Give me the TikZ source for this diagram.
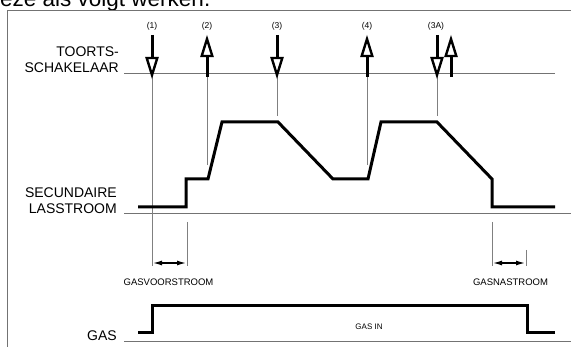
\documentclass[tikz,border=0pt]{standalone}
\usepackage{fontspec}
\setmainfont{Liberation Sans}
\usetikzlibrary{arrows.meta}
\begin{document}
\begin{tikzpicture}[x=1pt,y=-1pt,
  thinline/.style={draw=black!50, line width=0.8pt},
  rule/.style={draw=black!55, line width=1pt},
  wave/.style={draw=black, line width=3pt, line join=miter},
  lbl/.style={inner sep=0pt, font=\fontsize{14}{16}\selectfont},
  tag/.style={inner sep=0pt, font=\fontsize{8.5}{10}\selectfont},
  small/.style={inner sep=0pt, font=\fontsize{9.5}{11}\selectfont},
  shaft/.style={draw=black, line width=3pt},
  head/.style={draw=black, fill=white, line width=2.4pt, line join=miter},
  dim/.style={draw=black, line width=1.3pt, {Latex[length=9pt,width=5pt]}-{Latex[length=9pt,width=5pt]}}
]
\useasboundingbox (0,0) rectangle (571,347);
\clip (0,0) rectangle (571,347);

% caption fragment
\node[anchor=base west, inner sep=0pt, font=\fontsize{22.5}{27}\selectfont] (cap) at (0,7) {eze als volgt werken.};

% frame
\coordinate (fTL) at (7,11);
\coordinate (fTR) at (571,11);
\coordinate (fBL) at (7,347);
\draw[rule] (fTR) -- (fTL) -- (fBL);

% row labels
\node[lbl, anchor=base east] (toorts) at (119,57) {TOORTS-};
\node[lbl, anchor=base east] (schak) at (119,73) {SCHAKELAAR};
\node[lbl, anchor=base east] (secund) at (117,198) {SECUNDAIRE};
\node[lbl, anchor=base east] (lass) at (117,214) {LASSTROOM};
\node[lbl, anchor=base east] (gas) at (117,341) {GAS};

% baselines
\coordinate (r1a) at (124,74);  \coordinate (r1b) at (555,74);
\coordinate (r2a) at (124,214); \coordinate (r2b) at (571,214);
\coordinate (r3a) at (124,342); \coordinate (r3b) at (571,342);
\draw[rule] (r1a) -- (r1b);
\draw[rule] (r2a) -- (r2b);
\draw[rule] (r3a) -- (r3b);

% thin vertical event lines
\coordinate (v1a) at (152,74);  \coordinate (v1b) at (152,266);
\coordinate (v2a) at (207,74);  \coordinate (v2b) at (207,165);
\coordinate (v3a) at (277,74);  \coordinate (v3b) at (277,116);
\coordinate (v4a) at (367,74);  \coordinate (v4b) at (367,165);
\coordinate (v5a) at (437,74);  \coordinate (v5b) at (437,116);
\coordinate (g1a) at (187,222); \coordinate (g1b) at (187,266);
\coordinate (g2a) at (492,222); \coordinate (g2b) at (492,266);
\coordinate (g3a) at (526,250); \coordinate (g3b) at (526,266);
\foreach \n in {v1,v2,v3,v4,v5,g1,g2,g3} \draw[thinline] (\n a) -- (\n b);

% dimension arrows
\coordinate (d1a) at (153,263); \coordinate (d1b) at (186,263);
\coordinate (d2a) at (493,263); \coordinate (d2b) at (525,263);
\draw[dim] (d1a) -- (d1b);
\draw[dim] (d2a) -- (d2b);
\node[small] (gvs) at (168.5,282) {GASVOORSTROOM};
\node[small] (gns) at (510.5,282) {GASNASTROOM};

% event tags
\node[tag] (e1) at (152,26) {(1)};
\node[tag] (e2) at (207,26) {(2)};
\node[tag] (e3) at (277,26) {(3)};
\node[tag] (e4) at (367,26) {(4)};
\node[tag] (e5) at (436,26) {(3A)};

% down arrows
\foreach \x in {152,277,437} {
  \draw[shaft] (\x,35) -- (\x,58);
  \draw[head] (\x-5.3,58) -- (\x+5.3,58) -- (\x,75) -- cycle;
}
% up arrows
\foreach \x in {207,367,451} {
  \draw[shaft] (\x,55) -- (\x,77);
  \draw[head] (\x-5.3,56) -- (\x+5.3,56) -- (\x,39) -- cycle;
}

% current waveform
\draw[wave] (138,207) -- (186,207) -- (186,179) -- (208,179) -- (222,122)
  -- (278,122) -- (333,179) -- (368,179) -- (381,122) -- (437,122)
  -- (492,179) -- (492,207) -- (555,207);

% gas waveform
\draw[wave] (138,333) -- (152,333) -- (152,306) -- (527,306) -- (527,333) -- (555,333);
\node[inner sep=0pt, font=\fontsize{8}{10}\selectfont] (gin) at (369,327) {GAS IN};
\end{tikzpicture}
\end{document}
